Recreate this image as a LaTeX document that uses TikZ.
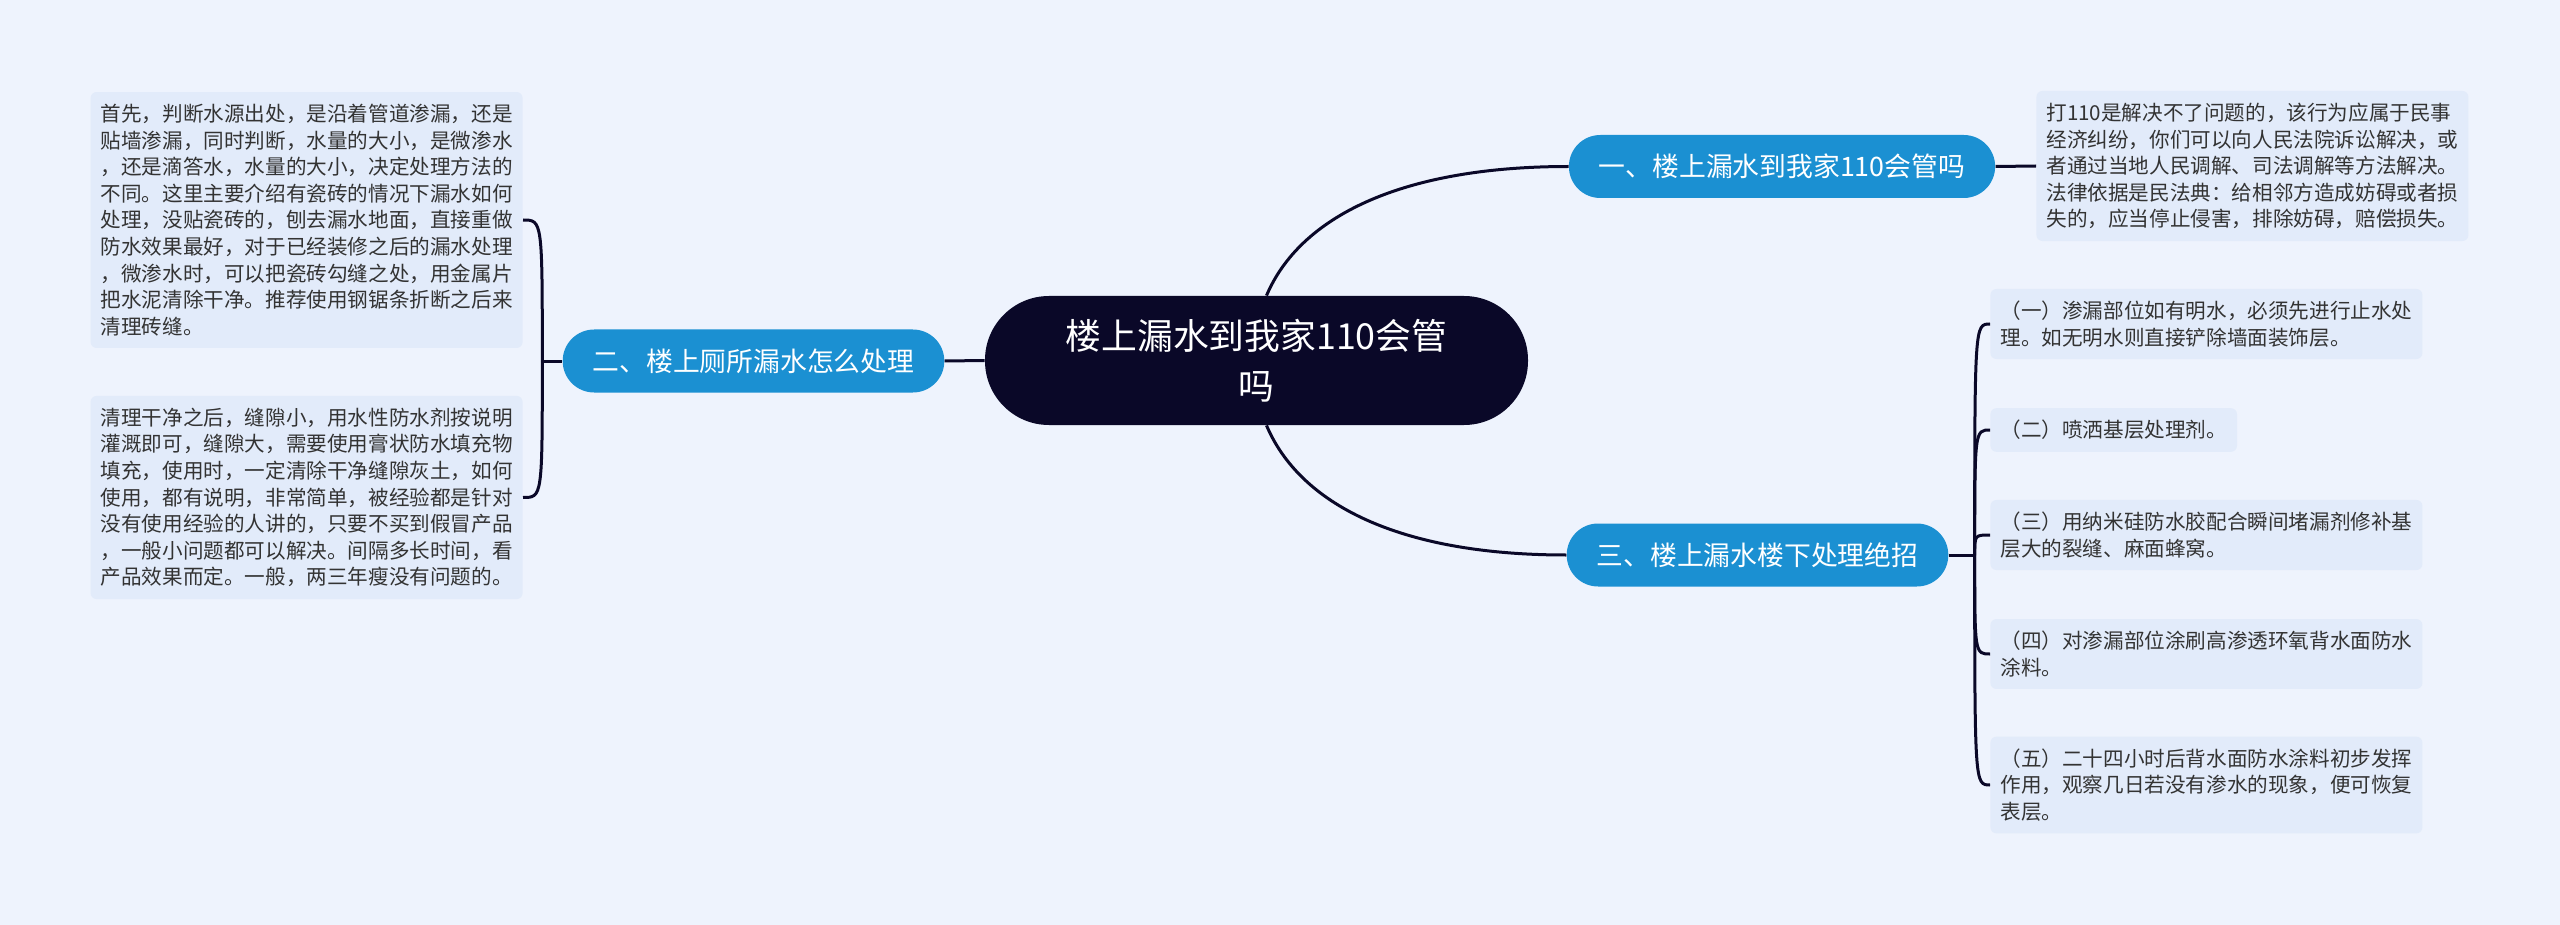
\documentclass[tikz,border=0pt]{standalone}
\usepackage{fontspec}
\setmainfont{Noto Sans CJK SC}
\usepackage{tikz}
\definecolor{bgcol}{HTML}{EEF3FD}
\definecolor{leafcol}{HTML}{E2EBFA}
\definecolor{branchcol}{HTML}{1B90D2}
\definecolor{rootcol}{HTML}{0A0828}
\definecolor{txtcol}{HTML}{333333}

\begin{document}
\begin{tikzpicture}[
    x=0.5pt, y=-0.5pt,
    root/.style={fill=rootcol, text=white, rounded corners=32pt,
                 minimum width=271.5pt, minimum height=64.5pt, align=center,
                 font=\fontsize{17.9}{25}\selectfont},
    branch/.style={fill=branchcol, text=white, rounded corners=15.7pt,
                   minimum height=31.5pt, inner xsep=15pt,
                   font=\fontsize{13.4}{16}\selectfont},
    leaf/.style={fill=leafcol, text=txtcol, rounded corners=3pt, align=left,
                 inner xsep=5pt, inner ysep=6pt,
                 font=\fontsize{10.3}{13.3}\selectfont},
    link/.style={draw=rootcol, line width=1.5pt}
]
    \fill[bgcol] (0,0) rectangle (2560,925);
    \useasboundingbox (0,0) rectangle (2560,925);

    \node[root] (c) at (1256.5,360.5) {楼上漏水到我家110会管\\吗};

    \node[branch] (b1) at (1782,166.5) {一、楼上漏水到我家110会管吗};
    \node[branch] (b2) at (753.5,361) {二、楼上厕所漏水怎么处理};
    \node[branch] (b3) at (1757.5,555) {三、楼上漏水楼下处理绝招};

    \node[leaf, anchor=west] (r1) at (2036,166)
        {打110是解决不了问题的，该行为应属于民事\\
         经济纠纷，你们可以向人民法院诉讼解决，或\\
         者通过当地人民调解、司法调解等方法解决。\\
         法律依据是民法典：给相邻方造成妨碍或者损\\
         失的，应当停止侵害，排除妨碍，赔偿损失。};

    \node[leaf, anchor=east] (l1) at (523,220)
        {首先，判断水源出处，是沿着管道渗漏，还是\\
         贴墙渗漏，同时判断，水量的大小，是微渗水\\
         ，还是滴答水，水量的大小，决定处理方法的\\
         不同。这里主要介绍有瓷砖的情况下漏水如何\\
         处理，没贴瓷砖的，刨去漏水地面，直接重做\\
         防水效果最好，对于已经装修之后的漏水处理\\
         ，微渗水时，可以把瓷砖勾缝之处，用金属片\\
         把水泥清除干净。推荐使用钢锯条折断之后来\\
         清理砖缝。};
    \node[leaf, anchor=east] (l2) at (523,497.5)
        {清理干净之后，缝隙小，用水性防水剂按说明\\
         灌溉即可，缝隙大，需要使用膏状防水填充物\\
         填充，使用时，一定清除干净缝隙灰土，如何\\
         使用，都有说明，非常简单，被经验都是针对\\
         没有使用经验的人讲的，只要不买到假冒产品\\
         ，一般小问题都可以解决。间隔多长时间，看\\
         产品效果而定。一般，两三年瘦没有问题的。};

    \node[leaf, anchor=west] (p1) at (1990,324)
        {（一）渗漏部位如有明水，必须先进行止水处\\
         理。如无明水则直接铲除墙面装饰层。};
    \node[leaf, anchor=west] (p2) at (1990,430) {（二）喷洒基层处理剂。};
    \node[leaf, anchor=west] (p3) at (1990,535)
        {（三）用纳米硅防水胶配合瞬间堵漏剂修补基\\
         层大的裂缝、麻面蜂窝。};
    \node[leaf, anchor=west] (p4) at (1990,654)
        {（四）对渗漏部位涂刷高渗透环氧背水面防水\\
         涂料。};
    \node[leaf, anchor=west] (p5) at (1990,785)
        {（五）二十四小时后背水面防水涂料初步发挥\\
         作用，观察几日若没有渗水的现象，便可恢复\\
         表层。};

    \draw[link] ([xshift=5pt]c.north) .. controls +(33,-78) and +(-169,0) .. (b1.west);
    \draw[link] ([xshift=5pt]c.south) .. controls +(33,78) and +(-169,0) .. (b3.west);
    \draw[link] (c.west) -- (b2.east);
    \draw[link] (b1.east) -- (r1.west);

    \draw[link] (b2.west) -- ++(-20,0) coordinate (t2);
    \foreach \n in {l1,l2}
        \draw[link] (t2) .. controls (t2 |- \n.east) .. (\n.east);

    \draw[link] (b3.east) -- ++(26,0) coordinate (t3);
    \foreach \n in {p1,p2,p3,p4,p5}
        \draw[link] (t3) .. controls (t3 |- \n.west) .. (\n.west);
\end{tikzpicture}
\end{document}
